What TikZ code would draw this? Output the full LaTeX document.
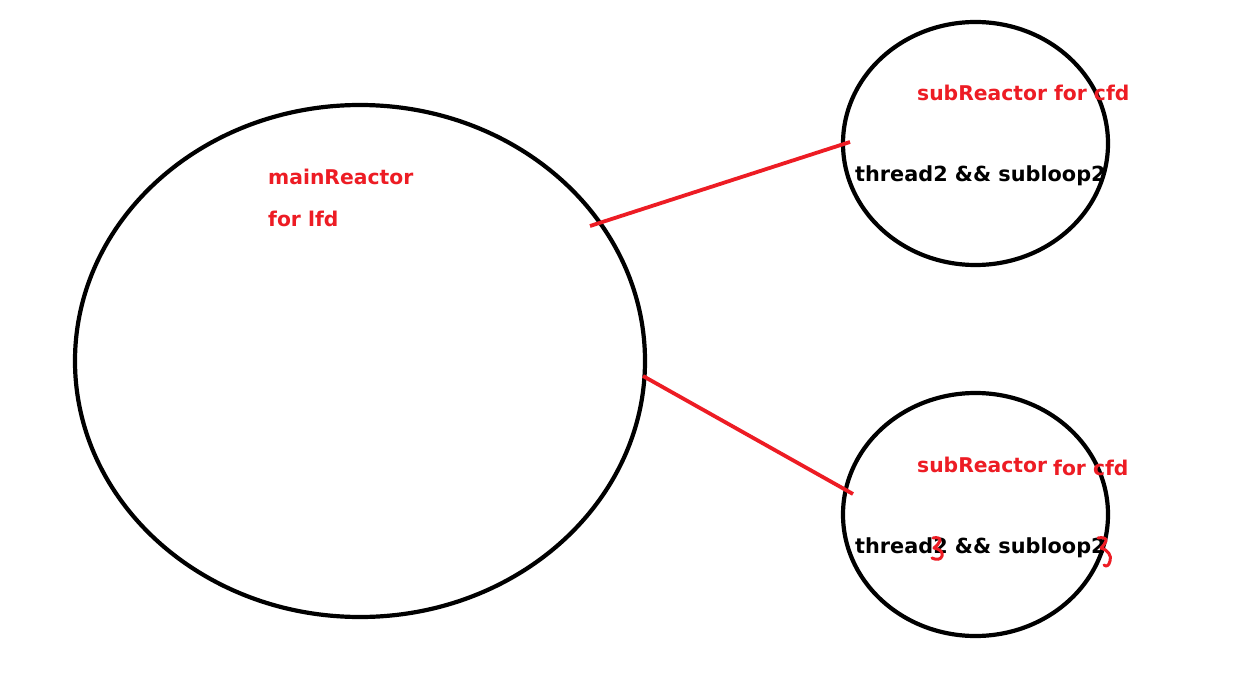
\documentclass[tikz,border=0pt]{standalone}
\usepackage{fontspec}
\setmainfont{DejaVu Sans}
\usetikzlibrary{shapes.geometric}
\definecolor{myred}{RGB}{237,28,36}
\begin{document}
\begin{tikzpicture}[x=1pt,y=-1pt,
  ring/.style={draw=black,line width=4.2pt,ellipse,inner sep=0pt},
  link/.style={draw=myred,line width=3.8pt},
  redtxt/.style={text=myred,font=\bfseries\fontsize{20.3}{24}\selectfont,anchor=base west,inner sep=0pt},
  blktxt/.style={text=black,font=\bfseries\fontsize{20.8}{24}\selectfont,anchor=base west,inner sep=0pt},
  scribble/.style={draw=myred,line width=3pt,line cap=round,line join=round}]
\useasboundingbox[fill=white] (0,0) rectangle (1249,676);
% circles
\node[ring,minimum width=570pt,minimum height=512pt] (main) at (360,361) {};
\node[ring,minimum width=265pt,minimum height=243pt] (subA) at (975.5,143.5) {};
\node[ring,minimum width=265pt,minimum height=243pt] (subB) at (975.5,514.5) {};
% connector ends
\coordinate (mA) at (590,226);
\coordinate (sA) at (850,142);
\coordinate (mB) at (643,376);
\coordinate (sB) at (853,494);
\draw[link] (mA) -- (sA);
\draw[link] (mB) -- (sB);
% texts
\node[redtxt] (t1) at (268,185) {mainReactor};
\node[redtxt] (t2) at (268,226) {for lfd};
\node[redtxt] (t3) at (917,101) {subReactor for cfd};
\node[blktxt] (t4) at (855,182) {thread2 \&\& subloop2};
\node[redtxt] (t5) at (917,472) {subReactor};
\node[redtxt] (t6) at (1053,475) {for cfd};
\node[blktxt] (t7) at (855,553) {thread2 \&\& subloop2};
% scribbles
\draw[scribble] (933,538) .. controls (937,537) and (941,538) .. (940,541) .. controls (939,544) and (936,546) .. (934,548)
  .. controls (940,549) and (943,552) .. (942,556) .. controls (941,560) and (936,560) .. (932,558);
\draw[scribble] (1098,538) .. controls (1102,537) and (1107,538) .. (1106,541) .. controls (1105,544) and (1103,546) .. (1101,548)
  .. controls (1108,550) and (1112,556) .. (1110,561) .. controls (1109,566) and (1106,567) .. (1104,565);
\end{tikzpicture}
\end{document}
